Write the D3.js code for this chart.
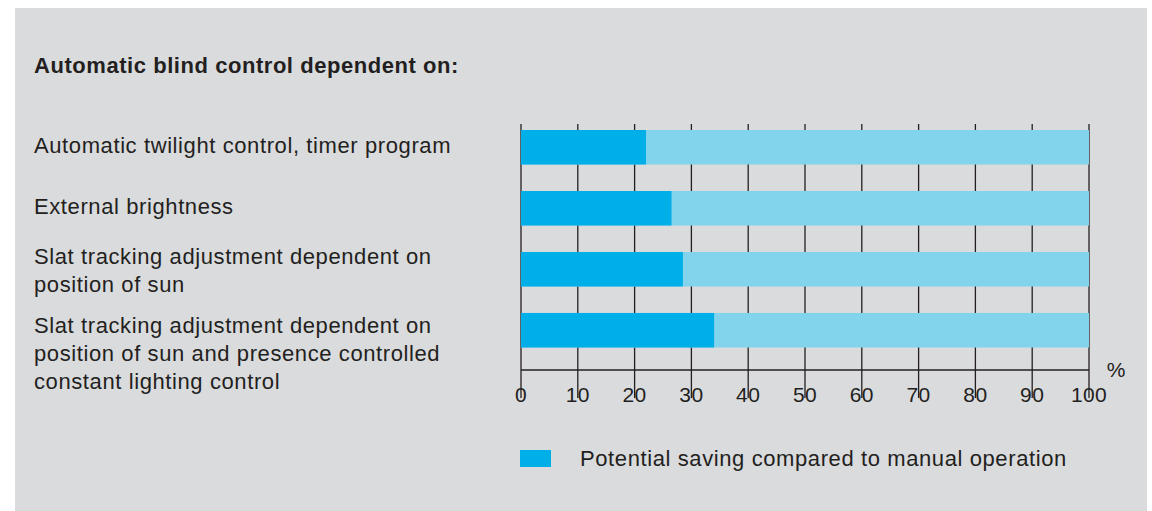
<!DOCTYPE html>
<html>
<head>
<meta charset="utf-8">
<script src="https://cdn.jsdelivr.net/npm/d3@7"></script>
<style>
  html, body { margin: 0; padding: 0; background: #ffffff; }
  svg { display: block; }
  text { font-family: "Liberation Sans", Arial, Helvetica, sans-serif; fill: #231f20; }
</style>
</head>
<body>
<svg id="chart" width="1152" height="511"></svg>
<script>
// ---- data ----
const title = "Automatic blind control dependent on:";
const categories = [
  ["Automatic twilight control, timer program"],
  ["External brightness"],
  ["Slat tracking adjustment dependent on", "position of sun"],
  ["Slat tracking adjustment dependent on", "position of sun and presence controlled", "constant lighting control"]
];
const savings = [22, 26.5, 28.5, 34];
const totals = [100, 100, 100, 100];
const xTicks = [0, 10, 20, 30, 40, 50, 60, 70, 80, 90, 100];
const unitLabel = "%";
const legendLabel = "Potential saving compared to manual operation";

// ---- layout / style ----
const W = 1152, H = 511;
const colDark = "#00aee8", colLight = "#82d3ec", bg = "#dadbdd", ink = "#231f20";
const labelBaselineShift = [6, 6, -5, 3];
const lineHeight = 28;
const bodySize = 22, bodySpacing = 0.6;

const svg = d3.select("#chart");
svg.append("rect").attr("x", 15).attr("y", 8).attr("width", 1132).attr("height", H - 8).attr("fill", bg);

svg.append("text").attr("x", 34).attr("y", 73)
  .attr("font-size", 22).attr("letter-spacing", 0.55).attr("font-weight", "bold").text(title);

const x = d3.scaleLinear().domain([0, 100]).range([521, 1089]);
const idx = categories.map((d, i) => i);
const y = d3.scaleBand().domain(idx).range([130, 347.5]).paddingInner(0.434).paddingOuter(0);

const gridTop = 124, axisY = 370, tickBottom = 398;

// grid / tick lines
svg.append("g").selectAll("line").data(xTicks).join("line")
  .attr("x1", d => x(d)).attr("x2", d => x(d))
  .attr("y1", gridTop).attr("y2", tickBottom)
  .attr("stroke", ink).attr("stroke-width", 1.3);

// bars
svg.append("g").selectAll("rect").data(idx).join("rect")
  .attr("x", x(0)).attr("y", i => y(i))
  .attr("width", i => x(totals[i]) - x(0)).attr("height", y.bandwidth())
  .attr("fill", colLight);
svg.append("g").selectAll("rect").data(idx).join("rect")
  .attr("x", x(0)).attr("y", i => y(i))
  .attr("width", i => x(savings[i]) - x(0)).attr("height", y.bandwidth())
  .attr("fill", colDark);

// axis line
svg.append("line").attr("x1", x(0)).attr("x2", x(100)).attr("y1", axisY).attr("y2", axisY)
  .attr("stroke", ink).attr("stroke-width", 1.5);

// tick labels
svg.append("g").selectAll("text").data(xTicks).join("text")
  .attr("x", d => x(d)).attr("y", 401.5).attr("text-anchor", "middle")
  .attr("font-size", 21).attr("letter-spacing", 0.4).text(d => d);

svg.append("text").attr("x", 1116).attr("y", 377).attr("text-anchor", "middle")
  .attr("font-size", 21).text(unitLabel);

// category labels
const lab = svg.append("g").selectAll("text").data(idx).join("text")
  .attr("font-size", bodySize).attr("letter-spacing", bodySpacing)
  .attr("y", i => y(i) + y.bandwidth() / 2 + labelBaselineShift[i]);
lab.each(function(i) {
  const t = d3.select(this);
  categories[i].forEach((line, k) => {
    t.append("tspan").attr("x", 34)
      .attr("y", y(i) + y.bandwidth() / 2 + labelBaselineShift[i] + k * lineHeight)
      .text(line);
  });
});

// legend
svg.append("rect").attr("x", 520).attr("y", 450).attr("width", 31).attr("height", 17).attr("fill", colDark);
svg.append("text").attr("x", 580).attr("y", 466).attr("font-size", bodySize)
  .attr("letter-spacing", bodySpacing).text(legendLabel);
</script>
</body>
</html>
